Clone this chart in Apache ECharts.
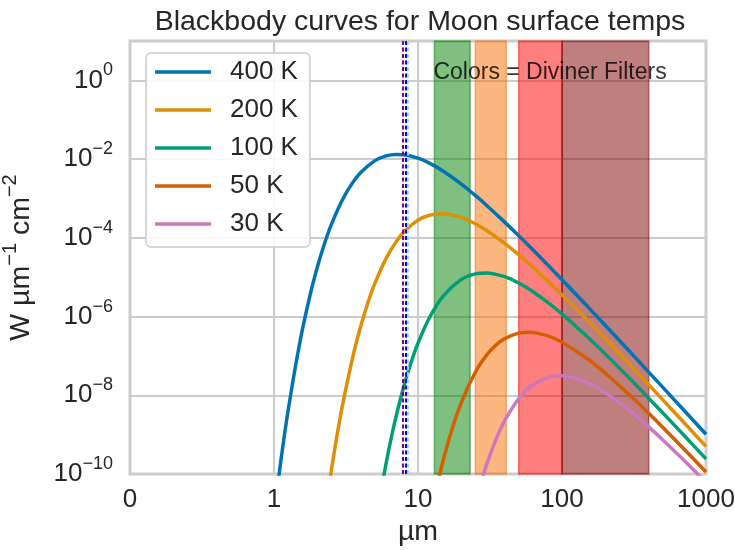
<!DOCTYPE html>
<html>
<head>
<meta charset="utf-8">
<script src="https://cdn.jsdelivr.net/npm/echarts@6/dist/echarts.min.js"></script>
<style>html,body{margin:0;padding:0;background:#fff;}#c{width:735px;height:550px;}</style>
</head>
<body>
<div id="c"></div>
<script>
// Wavelengths (µm) and spectral exitance (W µm^-1 cm^-2)
const wl400 = [1.0, 1.1, 1.25, 1.5, 1.75, 2, 2.25, 2.5, 3, 3.5, 4, 5, 6, 7, 8, 10, 12, 15, 20, 25, 30, 40, 50, 60, 80, 100, 150, 200, 300, 400, 500, 700, 1000];
const k400 = [8.94e-12, 1.461e-10, 3.886e-9, 1.898e-7, 2.700e-6, 1.808e-5, 7.398e-5, 2.162e-4, 9.557e-4, 2.452e-3, 4.544e-3, 9.000e-3, 1.2018e-2, 1.3134e-2, 1.288e-2, 1.0543e-2, 7.900e-3, 4.927e-3, 2.320e-3, 1.1916e-3, 6.646e-4, 2.5066e-4, 1.1368e-4, 5.860e-5, 2.0114e-5, 8.644e-6, 1.818e-6, 5.936e-7, 1.2086e-7, 3.883e-8, 1.605e-8, 4.222e-9, 1.0215e-9];

const wl200 = [2.4, 2.5, 2.75, 3, 3.5, 4, 4.5, 5, 6, 7, 8, 10, 12, 15, 20, 25, 30, 40, 50, 60, 80, 100, 150, 200, 300, 400, 500, 700, 1000];
const k200 = [4.51e-11, 1.2196e-10, 1.0358e-9, 5.931e-9, 8.439e-8, 5.649e-7, 2.312e-6, 6.755e-6, 2.986e-5, 7.662e-5, 1.420e-4, 2.8125e-4, 3.756e-4, 4.106e-4, 3.295e-4, 2.2846e-4, 1.5397e-4, 7.249e-5, 3.724e-5, 2.077e-5, 7.833e-6, 3.5525e-6, 8.006e-7, 2.701e-7, 5.682e-8, 1.855e-8, 7.738e-9, 2.057e-9, 5.016e-10];

const wl100 = [5.5, 6, 6.5, 7, 8, 9, 10, 12, 15, 20, 25, 30, 40, 50, 60, 80, 100, 150, 200, 300, 400, 500, 700, 1000];
const k100 = [3.237e-11, 1.853e-10, 7.86e-10, 2.637e-9, 1.7655e-8, 7.224e-8, 2.1108e-7, 9.333e-7, 3.364e-6, 8.789e-6, 1.2170e-5, 1.2830e-5, 1.0296e-5, 7.139e-6, 4.812e-6, 2.2654e-6, 1.1636e-6, 3.061e-7, 1.1101e-7, 2.502e-8, 8.441e-9, 3.591e-9, 9.756e-10, 2.418e-10];

const wl50 = [13, 14, 15, 17, 20, 25, 30, 35, 40, 50, 60, 80, 100, 150, 200, 300, 400, 500, 700, 1000];
const k50 = [2.456e-11, 8.24e-11, 2.297e-10, 1.1736e-9, 6.596e-9, 3.841e-8, 1.0514e-7, 1.9153e-7, 2.7466e-7, 3.803e-7, 4.009e-7, 3.2175e-7, 2.231e-7, 8.480e-8, 3.636e-8, 9.566e-9, 3.469e-9, 1.539e-9, 4.379e-10, 1.1222e-10];

const wl30 = [25, 28, 30, 35, 40, 50, 60, 80, 100, 120, 150, 200, 300, 400, 500, 700, 1000];
const k30 = [1.786e-11, 7.912e-11, 1.7555e-10, 7.952e-10, 2.2677e-9, 8.176e-9, 1.6256e-8, 2.852e-8, 3.1177e-8, 2.815e-8, 2.0997e-8, 1.1692e-8, 3.902e-9, 1.5772e-9, 7.439e-10, 2.262e-10, 6.080e-11];

const seriesNames = ['400 K', '200 K', '100 K', '50 K', '30 K'];
const seriesColors = ['#0173b2', '#de8f05', '#029e73', '#d55e00', '#cc78bc'];
const seriesX = [wl400, wl200, wl100, wl50, wl30];
const seriesY = [k400, k200, k100, k50, k30];

// Diviner filter bands (µm)
const bandStart = [13, 25, 50, 100];
const bandEnd = [23, 41, 100, 400];
const bandColors = ['rgba(0,128,0,0.5)', 'rgba(250,110,0,0.5)', 'rgba(255,0,0,0.5)', 'rgba(128,0,0,0.5)'];

// Narrow-band channel markers (µm)
const lineX = [7.8, 8.25, 8.55];
const lineColors = ['#800080', '#0000ff', '#add8e6'];

const xTicks = [0.1, 1, 10, 100, 1000];
const xTickLabels = ['0', '1', '10', '100', '1000'];

const FONT = '"Liberation Sans", Arial, sans-serif';
const TXT = '#262626';

const chart = echarts.init(document.getElementById('c'), null, {renderer: 'canvas'});

const lineSeries = seriesNames.map((name, i) => ({
  name: name,
  type: 'line',
  data: seriesX[i].map((x, j) => [x, seriesY[i][j]]),
  showSymbol: false,
  symbol: 'none',
  smooth: 0.3,
  clip: true,
  z: 3,
  lineStyle: {color: seriesColors[i], width: 3.5},
  itemStyle: {color: seriesColors[i]},
  emphasis: {disabled: true}
}));

const bandSeries = {
  name: 'bands',
  type: 'line',
  data: [],
  z: 2,
  silent: true,
  markArea: {
    silent: true,
    z: 1,
    data: bandStart.map((s, i) => [
      {xAxis: s, itemStyle: {color: bandColors[i], borderColor: bandColors[i], borderWidth: 1.5}},
      {xAxis: bandEnd[i]}
    ])
  },
  markLine: {
    silent: true,
    z: 5,
    symbol: ['none', 'none'],
    label: {show: false},
    data: lineX.map((x, i) => ({xAxis: x, lineStyle: {color: lineColors[i], type: [4, 2.5], width: 2}}))
  }
};

const textSeries = {
  name: 'note',
  type: 'scatter',
  data: [[12.8, 1]],
  symbolSize: 0,
  z: 6,
  silent: true,
  label: {
    show: true,
    position: 'right',
    distance: 0,
    offset: [0, -8],
    formatter: 'Colors = Diviner Filters',
    color: '#000',
    fontFamily: FONT,
    fontSize: 23
  }
};

const option = {
  backgroundColor: '#fff',
  animation: false,
  title: {
    text: 'Blackbody curves for Moon surface temps',
    left: 415,
    textAlign: 'center',
    top: 3,
    textStyle: {fontFamily: FONT, fontSize: 28.5, fontWeight: 'normal', color: TXT}
  },
  grid: {left: 130, right: 29, top: 41, bottom: 76, show: true, borderColor: '#cccccc', borderWidth: 3, backgroundColor: 'transparent', containLabel: false, outerBoundsMode: 'none'},
  legend: {
    data: seriesNames,
    orient: 'vertical',
    left: 146,
    top: 53,
    padding: [6, 12, 10, 9],
    itemWidth: 56,
    itemHeight: 22,
    itemGap: 12,
    icon: 'path://M0,0 L56,0 L56,3.5 L0,3.5 Z',
    backgroundColor: 'rgba(255,255,255,0.85)',
    borderColor: '#cccccc',
    borderWidth: 1.5,
    borderRadius: 5,
    textStyle: {fontFamily: FONT, fontSize: 26, lineHeight: 22, color: TXT, padding: [0, 0, 0, 14]},
    z: 10
  },
  xAxis: {
    type: 'log',
    logBase: 10,
    min: 0.1,
    max: 1000,
    interval: 1,
    name: 'µm',
    nameLocation: 'middle',
    nameGap: 42,
    nameTextStyle: {fontFamily: FONT, fontSize: 28.5, color: TXT},
    axisLine: {show: false},
    axisTick: {show: false},
    splitLine: {show: true, lineStyle: {color: '#cccccc', width: 2}},
    minorSplitLine: {show: false},
    axisLabel: {
      fontFamily: FONT, fontSize: 26, color: TXT, margin: 13,
      alignMinLabel: 'center',
      alignMaxLabel: 'center',
      hideOverlap: false,
      formatter: function (v) {
        for (let i = 0; i < xTicks.length; i++) {
          if (Math.abs(Math.log10(v) - Math.log10(xTicks[i])) < 1e-6) return xTickLabels[i];
        }
        return '';
      }
    }
  },
  yAxis: {
    type: 'log',
    logBase: 10,
    min: 1e-10,
    max: 10,
    interval: 2,
    name: '{b|W µm}{s|−1}{b| cm}{s|−2}',
    nameLocation: 'middle',
    nameRotate: 90,
    nameGap: 88,
    nameTextStyle: {
      rich: {
        b: {fontFamily: FONT, fontSize: 28.5, lineHeight: 42, color: TXT},
        s: {fontFamily: FONT, fontSize: 20, lineHeight: 20, color: TXT, verticalAlign: 'top'}
      }
    },
    axisLine: {show: false},
    axisTick: {show: false},
    splitLine: {show: true, lineStyle: {color: '#cccccc', width: 2}},
    axisLabel: {
      margin: 17,
      formatter: function (v) {
        const e = Math.round(Math.log10(v));
        if (e > 0) return '';
        const es = e < 0 ? '−' + String(-e) : String(e);
        return '{b|10}{s|' + es + '}';
      },
      rich: {
        b: {fontFamily: FONT, fontSize: 26, lineHeight: 38, color: TXT},
        s: {fontFamily: FONT, fontSize: 18, lineHeight: 18, color: TXT, verticalAlign: 'top'}
      }
    }
  },
  series: lineSeries.concat([bandSeries, textSeries])
};

chart.setOption(option);
</script>
</body>
</html>
